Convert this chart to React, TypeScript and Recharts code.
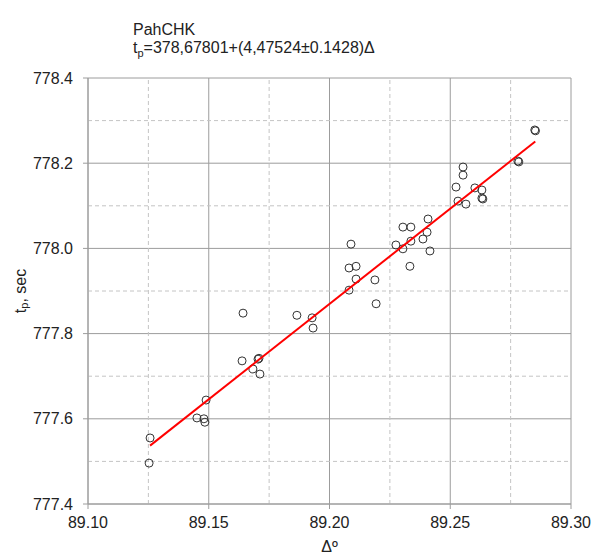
import { ScatterChart, Scatter, XAxis, YAxis, CartesianGrid, ReferenceLine, Label } from "recharts"

// измерения: Δ (градусы) и t_p (сек)
const deltaVals = [
  89.1257, 89.1253, 89.1451, 89.148, 89.1484, 89.1489, 89.1642, 89.1638, 89.1683, 89.1704,
  89.1708, 89.1712, 89.1865, 89.1928, 89.1932, 89.2081, 89.2081, 89.2089, 89.211, 89.211,
  89.2188, 89.2193, 89.2275, 89.2304, 89.2304, 89.2337, 89.2337, 89.2333, 89.2387, 89.2404,
  89.2408, 89.2416, 89.2524, 89.2532, 89.2553, 89.2553, 89.2565, 89.2602, 89.2631, 89.2631,
  89.2635, 89.278, 89.2784, 89.285, 89.2853,
]
const tpVals = [
  777.555, 777.496, 777.602, 777.6, 777.592, 777.644, 777.848, 777.736, 777.717, 777.74,
  777.742, 777.705, 777.843, 777.837, 777.813, 777.902, 777.954, 778.01, 777.958, 777.928,
  777.926, 777.87, 778.008, 778.05, 777.999, 778.05, 778.017, 777.958, 778.022, 778.038,
  778.069, 777.994, 778.144, 778.111, 778.172, 778.191, 778.104, 778.142, 778.137, 778.118,
  778.116, 778.205, 778.203, 778.278, 778.276,
]

// линия аппроксимации (концы)
const fitX = [89.1257, 89.2852]
const fitY = [777.537, 778.251]

const xTicks = [89.1, 89.15, 89.2, 89.25, 89.3]
const yTicks = [777.4, 777.6, 777.8, 778.0, 778.2, 778.4]
const xMinor = [89.125, 89.175, 89.225, 89.275]
const yMinor = [777.5, 777.7, 777.9, 778.1, 778.3]

const points = deltaVals.map((d, i) => ({ x: d, y: tpVals[i] }))
const fitData = fitX.map((d, i) => ({ x: d, y: fitY[i] }))

const FONT = "'Liberation Sans', Arial, sans-serif"
const MAJOR = "#9c9c9c"
const MINOR = "#c4c4c4"

const Circle = (props: any) => (
  <circle cx={props.cx} cy={props.cy} r={4} fill="none" stroke="#333" strokeWidth={1} />
)

const YLabel = (props: any) => {
  const vb = props.viewBox
  const cy = vb.y + vb.height / 2
  const cx = 20
  return (
    <text
      x={cx}
      y={cy}
      transform={`rotate(-90, ${cx}, ${cy})`}
      textAnchor="middle"
      dominantBaseline="central"
      fontSize={16}
      fontFamily={FONT}
      fill="#222"
    >
      t<tspan fontSize={11} dy={4}>p</tspan>
      <tspan dy={-4}>, sec</tspan>
    </text>
  )
}

export default function App() {
  return (
    <div style={{ position: "absolute", left: 0, top: 0, width: 592, height: 554, background: "#fff" }}>
      <div style={{ position: "absolute", left: 133, top: 21, fontFamily: FONT, fontSize: 16, color: "#222", lineHeight: "18px" }}>
        <div>PahCHK</div>
        <div>
          t<sub style={{ fontSize: 11, verticalAlign: "-4px", lineHeight: 0 }}>p</sub>=378,67801+(4,47524±0.1428)Δ
        </div>
      </div>
      <ScatterChart width={592} height={554} margin={{ top: 78, right: 21, bottom: 0, left: 0 }}>
        <CartesianGrid stroke={MAJOR} strokeWidth={1} />
        {xMinor.map((v) => (
          <ReferenceLine key={`xm${v}`} x={v} stroke={MINOR} strokeDasharray="4 3" />
        ))}
        {yMinor.map((v) => (
          <ReferenceLine key={`ym${v}`} y={v} stroke={MINOR} strokeDasharray="4 3" />
        ))}
        <XAxis
          type="number"
          dataKey="x"
          domain={[89.1, 89.3]}
          ticks={xTicks}
          tickFormatter={(v: number) => v.toFixed(2)}
          allowDataOverflow
          height={50}
          stroke={MAJOR}
          tickSize={5}
          tickMargin={8}
          tick={{ fill: "#222", fontSize: 16, fontFamily: FONT }}
        >
          <Label value="Δº" position="insideBottom" offset={2} fill="#222" fontSize={16} fontFamily={FONT} />
        </XAxis>
        <YAxis
          type="number"
          dataKey="y"
          domain={[777.4, 778.4]}
          ticks={yTicks}
          tickFormatter={(v: number) => v.toFixed(1)}
          allowDataOverflow
          width={88}
          stroke={MAJOR}
          tickSize={5}
          tickMargin={10}
          tick={{ fill: "#222", fontSize: 16, fontFamily: FONT }}
        >
          <Label content={<YLabel />} />
        </YAxis>
        <Scatter data={points} shape={<Circle />} isAnimationActive={false} />
        <Scatter
          data={fitData}
          line={{ stroke: "#ff0000", strokeWidth: 2 }}
          shape={() => <g />}
          isAnimationActive={false}
        />
      </ScatterChart>
    </div>
  )
}
